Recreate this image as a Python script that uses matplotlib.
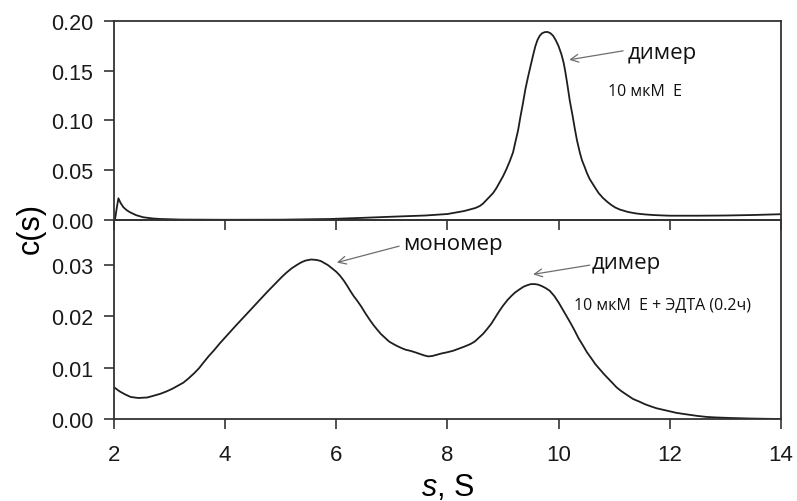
import matplotlib
matplotlib.use("Agg")
import matplotlib.pyplot as plt

plt.rcParams['font.family'] = ['Liberation Sans', 'DejaVu Sans']
plt.rcParams['mathtext.fontset'] = 'custom'
plt.rcParams['mathtext.rm'] = 'Liberation Sans'
plt.rcParams['mathtext.it'] = 'Liberation Sans:italic'

# top panel: 10 uM E
s_top = [2.0, 2.02, 2.05, 2.08, 2.12, 2.17, 2.23, 2.29, 2.4, 2.53, 2.7, 2.83, 3.2, 4.0, 5.0,
         5.9, 6.5, 7.1, 7.6, 8.0, 8.1, 8.2, 8.3, 8.4, 8.5, 8.58, 8.64, 8.7, 8.76, 8.82, 8.88,
         8.94, 9.0, 9.06, 9.12, 9.18, 9.22, 9.27, 9.31, 9.36, 9.40, 9.45, 9.50, 9.54, 9.58,
         9.62, 9.66, 9.70, 9.75, 9.80, 9.85, 9.90, 9.95, 10.0, 10.05, 10.09, 10.12, 10.16,
         10.20, 10.25, 10.29, 10.33, 10.38, 10.42, 10.47, 10.51, 10.56, 10.65, 10.72, 10.80,
         10.88, 10.95, 11.02, 11.10, 11.25, 11.4, 11.55, 11.7, 11.85, 12.0, 12.5, 13.0, 13.5,
         14.0]
c_top = [0.0, 0.001, 0.012, 0.0218, 0.017, 0.0128, 0.0098, 0.0077, 0.0048, 0.0027, 0.0015,
         0.001, 0.0004, 0.0002, 0.0003, 0.001, 0.0022, 0.0035, 0.0045, 0.006, 0.007, 0.008,
         0.009, 0.0105, 0.012, 0.014, 0.0165, 0.020, 0.0235, 0.027, 0.032, 0.038, 0.044,
         0.051, 0.059, 0.068, 0.078, 0.090, 0.103, 0.118, 0.131, 0.144, 0.156, 0.1655,
         0.1745, 0.181, 0.1852, 0.1876, 0.1888, 0.189, 0.1878, 0.1852, 0.1805, 0.1745,
         0.1665, 0.158, 0.149, 0.135, 0.120, 0.105, 0.092, 0.080, 0.068, 0.060, 0.053, 0.047,
         0.041, 0.033, 0.027, 0.022, 0.018, 0.015, 0.0125, 0.0105, 0.008, 0.0065, 0.0056,
         0.005, 0.0046, 0.0043, 0.0043, 0.0045, 0.005, 0.0058]

# bottom panel: 10 uM E + EDTA (0.2 h)
s_bot = [2.0, 2.1, 2.2, 2.3, 2.44, 2.6, 2.7, 2.83, 2.95, 3.05, 3.15, 3.25, 3.35, 3.45, 3.53,
         3.61, 3.7, 3.8, 3.9, 4.0, 4.2, 4.39, 4.57, 4.75, 4.93, 5.02, 5.11, 5.2, 5.3, 5.38,
         5.45, 5.55, 5.65, 5.72, 5.77, 5.85, 5.92, 6.0, 6.07, 6.14, 6.2, 6.25, 6.31, 6.38,
         6.45, 6.53, 6.61, 6.67, 6.73, 6.8, 6.88, 6.95, 7.03, 7.1, 7.18, 7.25, 7.33, 7.42,
         7.5, 7.58, 7.66, 7.73, 7.8, 7.9, 7.99, 8.1, 8.2, 8.3, 8.41, 8.49, 8.56, 8.64, 8.71,
         8.79, 8.86, 8.93, 9.0, 9.08, 9.15, 9.22, 9.30, 9.37, 9.44, 9.50, 9.57, 9.63, 9.70,
         9.77, 9.84, 9.92, 10.0, 10.07, 10.14, 10.22, 10.29, 10.36, 10.44, 10.51, 10.59,
         10.66, 10.74, 10.82, 10.9, 10.97, 11.04, 11.12, 11.2, 11.27, 11.34, 11.45, 11.55,
         11.65, 11.76, 11.88, 12.0, 12.12, 12.24, 12.37, 12.5, 12.67, 12.84, 13.1, 13.44,
         13.7, 14.0]
c_bot = [0.0062, 0.0054, 0.0048, 0.0043, 0.0041, 0.0042, 0.0045, 0.0049, 0.0054, 0.0059,
         0.0065, 0.0071, 0.0080, 0.0090, 0.0099, 0.0110, 0.0122, 0.0134, 0.0147, 0.0159,
         0.0183, 0.0205, 0.0226, 0.0247, 0.0267, 0.0277, 0.0286, 0.0294, 0.0301, 0.0306,
         0.0309, 0.0311, 0.0310, 0.0308, 0.0305, 0.0300, 0.0294, 0.0287, 0.0279, 0.0269,
         0.0259, 0.0250, 0.0240, 0.0230, 0.0219, 0.0205, 0.0192, 0.0183, 0.0175, 0.0166,
         0.0158, 0.0151, 0.0146, 0.0142, 0.0138, 0.0135, 0.0133, 0.0130, 0.0127, 0.0124,
         0.0122, 0.0123, 0.0125, 0.0128, 0.0130, 0.0133, 0.0137, 0.0141, 0.0146, 0.0151,
         0.0158, 0.0166, 0.0175, 0.0186, 0.0198, 0.0210, 0.0221, 0.0232, 0.0240, 0.0247,
         0.0253, 0.0258, 0.0261, 0.0263, 0.0263, 0.0262, 0.0259, 0.0255, 0.0250, 0.0240,
         0.0227, 0.0214, 0.0201, 0.0186, 0.0172, 0.0157, 0.0143, 0.0130, 0.0118, 0.0107,
         0.0097, 0.0087, 0.0078, 0.0070, 0.0062, 0.0055, 0.0049, 0.0044, 0.0039, 0.0034,
         0.0029, 0.0025, 0.0021, 0.0018, 0.0015, 0.0012, 0.0010, 0.0008, 0.0006, 0.0004,
         0.0003, 0.0002, 0.0001, 0.00005, 0.0]

x_ticks = [2, 4, 6, 8, 10, 12, 14]
top_yticks = [0.0, 0.05, 0.10, 0.15, 0.20]
bot_yticks = [0.0, 0.01, 0.02, 0.03]

ann_font = ['Open Sans', 'DejaVu Sans']
line_col = '#1e1e1e'
spine_col = '#333333'
arrow_col = '#6e6e6e'

fig = plt.figure(figsize=(7.97, 5.02), dpi=100)
ax2 = fig.add_axes([0.143, 0.1633, 0.8369, 0.3965])
ax1 = fig.add_axes([0.143, 0.5598, 0.8369, 0.3964])
ax1.patch.set_alpha(0)

for ax in (ax1, ax2):
    ax.set_xlim(2, 14)
    ax.set_xticks(x_ticks)
    for sp in ax.spines.values():
        sp.set_color(spine_col)
        sp.set_linewidth(1.3)
    ax.tick_params(direction='out', length=7, width=1.2, color=spine_col,
                   labelsize=15.5, pad=8, labelcolor='#1a1a1a')

ax1.plot(s_top, c_top, color=line_col, lw=1.3, solid_joinstyle='round')
ax1.set_ylim(0, 0.20)
ax1.set_yticks(top_yticks)
ax1.set_yticklabels(['%.2f' % v for v in top_yticks])
ax1.tick_params(axis='x', labelbottom=False)

ax2.plot(s_bot, c_bot, color=line_col, lw=1.3, solid_joinstyle='round')
ax2.set_ylim(0, 0.0388)
ax2.set_yticks(bot_yticks)
ax2.set_yticklabels(['%.2f' % v for v in bot_yticks])
ax2.set_xticklabels([str(t) for t in x_ticks])
ax2.tick_params(axis='x', pad=11, labelsize=16)

arrow = dict(arrowstyle='->', color=arrow_col, lw=0.9, shrinkA=0, shrinkB=0,
             mutation_scale=14)

# top annotations
ax1.annotate('', xy=(10.19, 0.161), xytext=(11.16, 0.170), arrowprops=arrow)
ax1.text(11.24, 0.163, 'димер', family=ann_font, fontsize=16, va='baseline', color='#111111')
ax1.text(10.89, 0.1256, '10 мкМ  Е', family=ann_font, fontsize=11.5, va='baseline', color='#111111')

# bottom annotations
ax2.annotate('', xy=(6.01, 0.0305), xytext=(7.13, 0.0337), arrowprops=arrow)
ax2.text(7.20, 0.0331, 'мономер', family=ann_font, fontsize=16, va='baseline', color='#111111')
ax2.annotate('', xy=(9.54, 0.0282), xytext=(10.56, 0.0300), arrowprops=arrow)
ax2.text(10.59, 0.0294, 'димер', family=ann_font, fontsize=16, va='baseline', color='#111111')
ax2.text(10.27, 0.0216, '10 мкМ  Е + ЭДТА (0.2ч)', family=ann_font, fontsize=11.5,
         va='baseline', color='#111111')

fig.text(0.038, 0.544, 'c(s)', rotation=90, fontsize=22, ha='center', va='center')
fig.text(0.5621, 0.011, r'$\mathit{s}$, S', fontsize=22, ha='center', va='baseline')

fig.savefig('out.png', dpi=100)
plt.close(fig)
